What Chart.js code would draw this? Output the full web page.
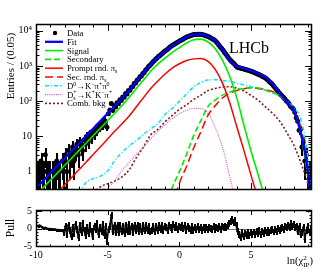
<!DOCTYPE html>
<html><head><meta charset="utf-8">
<script src="https://cdn.jsdelivr.net/npm/chart.js@4.4.1/dist/chart.umd.min.js"></script>
<style>
html,body{margin:0;padding:0;background:#fff;}
body{width:332px;height:275px;position:relative;overflow:hidden;}
#main{position:absolute;left:0;top:0;}
#pull{position:absolute;left:0;top:200px;}
</style>
</head><body>
<canvas id="main" width="332" height="200"></canvas>
<canvas id="pull" width="332" height="75"></canvas>
<script>
// ---------------- DATA ----------------
const binStart = -9.95, binStep = 0.1;
const counts = [
 1,1,1,2,1,1,3,1,1,1, 0,1,1,1,2,1,1,0,2,1,
 3,1,4,2,3,5,2,4,6,3, 7,5,4,8,6,10,7,12,9,13, 11,16,14,19,17,24,20,29,26,18,
 44,56,86,55,74,68,90,85,110,104, 131,128,165,160,201,205,250,260,318,330,
 395,418,490,520,610,650,765,830,960,1040,
 1160,1300,1395,1570,1680,1870,1985,2190,2320,2550,
 2745,2920,3190,3420,3650,3940,4150,4400,4600,4910,
 5170,5480,5760,6120,6410,6740,6950,7150,7420,7620,
 7800,7830,7870,7880,7940,7820,7640,7400,7230,7000,
 6760,6380,6040,5690,5420,4960,4440,3950,3520,3140,
 2770,2400,2130,1880,1650,1470,1340,1230,1120,1000,
 920,890,870,850,830,800,785,765,740,720,
 700,672,645,615,592,568,540,515,492,470,
 440,402,370,338,312,280,248,220,196,175,
 158,142,128,116,103,94,84,72,66,60,
 48,34,27,15,16,5,7,2,3,1, 1,0
];
const pulls = [
 0.8,0.7,0.9,0.6,0.3,0.1,0.2,0.0,-0.1,-0.1, -0.2,-0.2,-0.3,-0.3,-0.4,-0.4,-0.5,-0.5,-0.6,-1.2,
 0.6,-1.8,0.9,-0.7,-2.3,0.4,-1.5,1.2,-0.3,-2.6, 0.8,-1.1,1.5,-0.6,-2.0,0.3,-1.4,1.0,-0.9,-2.4,
 0.7,-0.4,1.3,-1.6,0.2,-0.8,1.1,-1.9,0.5,-3.8,
 -0.3,0.6,3.8,-0.9,0.9,-1.2,0.8,-1.1,1.0,-0.9, 0.7,-1.3,0.9,-1.0,1.1,-0.9,0.6,-1.2,0.9,-0.7,
 0.8,-0.8,0.7,-1.0,0.9,-0.7,1.0,-0.6,0.7,-0.9,
 -0.6,0.5,-0.8,0.7,-0.5,0.8,-0.4,0.9,-0.6,0.6, 0.4,-0.5,0.9,0.2,-0.4,1.1,0.3,1.0,-0.4,0.7,
 0.2,0.9,-0.1,0.8,-0.5,0.6,0.1,-0.5,0.5,-0.5, 0.4,-0.2,0.5,-0.4,0.4,-0.5,0.3,-0.3,0.4,-0.4,
 0.2,-0.1,-0.4,0.5,-0.2,0.4,0.1,0.7,-0.2,0.5,
 0.2,0.6,0.2,1.0,1.3,1.9,2.5,1.6,2.2,1.0,
 -0.8,-1.7,-2.7,-1.2,-2.3,-1.4,-2.1,-1.0,-1.9,-1.2, -1.7,-1.0,-1.6,
 -0.9,-1.5,-0.7,-1.6,-0.8,-1.3,-0.6,-1.2,-0.5,-1.1, -0.6,-0.3,-1.0,-0.3,-0.8,-0.1,-0.7,
 -0.1,0.3,-0.3,0.5,0.2,0.9,0.4,1.3,0.6,1.1, 0.3,0.7,
 -0.9,0.6,-1.7,-1.1,0.4,-3.1,-0.6,0.5,-1.1,-0.3
];
// pull uncertainty per bin (thin where the pull line is flat on the left)
const pullErrs = [
 0.1,0.1,0.1,0.1,0.1,0.1,0.1,0.1,0.1,0.1, 0.1,0.1,0.1,0.1,0.1,0.1,0.1,0.1,0.1
];
const curveX = [-10,-9.5,-9,-8.5,-8,-7.5,-7,-6.5,-6,-5.5,-5,-4.5,-4,-3.5,-3,-2.5,-2,-1.5,-1,-0.5,
 0,0.5,1,1.5,2,2.5,3,3.5,4,4.5,5,5.5,6,6.5,7,7.5,8,8.5,9,9.25];
const fitY = [0.34,0.55,0.90,1.47,2.39,3.89,6.3,10.3,16.8,27.4,44.7,72.8,119,205,363,630,1120,1760,2630,3800,
 5010,6610,7760,7940,6920,5250,2950,1460,980,850,740,600,480,310,170,93,50,11,0.8,0.05];
const signalY = [0.21,0.35,0.57,0.92,1.51,2.45,4.0,6.5,10.6,17.3,28.2,45.9,74.8,129,229,398,708,1120,1660,2400,
 3310,4470,5500,5750,4790,3090,1450,520,126,21,3.8,0.8,0.16,null,null,null,null,null,null,null];
const secondaryY = [null,null,null,null,null,null,null,null,null,null,null,null,null,null,null,null,null,null,0.1,0.35,
 1.0,3.1,10.7,28,71,107,148,178,214,229,240,237,204,174,141,93,50,10,0.5,0.05];
const promptY = [null,null,0.15,0.25,0.42,0.69,1.14,1.86,3.1,5.1,8.5,14.1,22.9,38,69,126,229,372,590,870,
 1150,1430,1585,1620,1350,795,330,93,19,4.0,0.78,0.16,null,null,null,null,null,null,null,null];
const secRndY = [null,null,null,null,null,null,null,null,null,null,null,null,null,null,null,null,null,null,null,0.1,
 0.47,1.4,4.7,13.5,40,74,123,166,200,224,240,229,214,186,151,89,52,16,0.9,0.05];
const d0Y = [null,null,null,null,null,null,0.25,0.5,0.63,0.74,1.05,2.1,3.5,5.4,7.6,11.5,16.2,23,42,62,
 100,158,257,339,398,407,385,363,324,288,257,229,204,170,141,100,63,28,1.6,0.05];
const dsY = [null,null,null,null,null,null,null,null,null,0.2,0.33,0.56,1.07,1.8,3.1,5.0,8.5,13.8,21.4,31.6,
 43.7,55,61.7,61.7,44.7,17.8,5.0,0.76,0.1,null,null,null,null,null,null,null,null,null,null,null];
const combY = [null,null,null,null,null,null,null,null,0.25,0.37,0.45,0.54,0.71,1.12,2.5,5.0,11,15.8,26,39,
 58,79,112,148,200,229,251,257,234,195,145,105,69,45,27,12.6,5.4,1.66,0.38,0.1];

const yTickValues = [1,10,100,1000,10000];
const yTickLabels = ['1','10','10²','10³','10⁴'];
const pullTickValues = [-5,0,5];
const xTickValues = [-10,-5,0,5];

// ---------------- STYLE ----------------
const SERIF = "'Liberation Serif','Times New Roman',serif";
const styles = {
  fit:{color:'#0000ff',width:2.3,dash:[]},
  signal:{color:'#00ee00',width:1.6,dash:[]},
  secondary:{color:'#00ee00',width:1.6,dash:[6,3]},
  prompt:{color:'#ff0000',width:1.5,dash:[]},
  secRnd:{color:'#ff0000',width:1.5,dash:[8,4]},
  d0:{color:'#00e5ff',width:1.5,dash:[4,2,1,2]},
  ds:{color:'#cc55cc',width:1.1,dash:[1,1.2]},
  comb:{color:'#8b1a1a',width:1.6,dash:[2,2]}
};

const binX = i => +(binStart + i*binStep).toFixed(3);
const dataPts = counts.map((n,i)=>({x:binX(i), y:n>0?n:null}));
const pullPts = pulls.map((p,i)=>({x:binX(i), y:p}));
const curve = arr => curveX.map((x,i)=>({x, y:arr[i]}));

function lineDs(arr, st, order){
  return {data:curve(arr), showLine:true, pointRadius:0, borderColor:st.color, borderWidth:st.width,
    borderDash:st.dash, fill:false, cubicInterpolationMode:'monotone', spanGaps:false, order};
}

// ---------------- helpers ----------------
function drawRich(ctx, parts, x, y, size, measureOnly){
  let cx = x;
  for (const p of parts){
    if (p.stack){
      const s = size*0.68;
      ctx.font = s+'px '+SERIF;
      const w = Math.max(ctx.measureText(p.sup).width, ctx.measureText(p.sub).width);
      if(!measureOnly){ ctx.fillText(p.sup, cx, y - size*0.36); ctx.fillText(p.sub, cx, y + size*0.26); }
      cx += w; continue;
    }
    const m = p.m || 'n';
    const s = m==='n' ? size : size*0.68;
    const dy = m==='sup' ? -size*0.36 : (m==='sub' ? size*0.24 : 0);
    ctx.font = s+'px '+SERIF;
    if(!measureOnly) ctx.fillText(p.t, cx, y+dy);
    cx += ctx.measureText(p.t).width;
  }
  return cx - x;
}

function frameTicks(id, xMaj, xMin, yTicks){
  return {id, afterDatasetsDraw(chart){
    const {ctx, chartArea:a, scales:{x,y}} = chart;
    ctx.save(); ctx.strokeStyle='#000'; ctx.lineWidth=1;
    ctx.beginPath();
    for (let k=-10;k<=9;k++){
      const px = Math.round(x.getPixelForValue(k))+0.5;
      const L = (k%5===0)?xMaj:xMin;
      ctx.moveTo(px,a.bottom); ctx.lineTo(px,a.bottom-L);
      ctx.moveTo(px,a.top); ctx.lineTo(px,a.top+L);
    }
    for (const [v,L] of yTicks){
      const py = Math.round(y.getPixelForValue(v))+0.5;
      if (py < a.top || py > a.bottom) continue;
      ctx.moveTo(a.left,py); ctx.lineTo(a.left+L,py);
      ctx.moveTo(a.right,py); ctx.lineTo(a.right-L,py);
    }
    ctx.stroke();
    ctx.lineWidth=1.5;
    ctx.strokeRect(Math.round(a.left)+0.5, Math.round(a.top)+0.5, Math.round(a.right-a.left)-1, Math.round(a.bottom-a.top)-1);
    ctx.restore();
  }};
}

const mainYTicks = [];
for (let d=-1; d<=4; d++) for (let m=1; m<=9; m++){
  const v = m*Math.pow(10,d);
  if (v>=0.34 && v<=15500) mainYTicks.push([v, m===1?7:3.5]);
}
const pullYTicks = [];
for (let v=-5; v<=5; v++) pullYTicks.push([v, v%5===0?6:2.5]);

const dataErrors = {id:'dataErrors', beforeDatasetsDraw(chart){
  const {ctx, chartArea:a, scales:{x,y}} = chart;
  ctx.save(); ctx.beginPath(); ctx.rect(a.left,a.top,a.right-a.left,a.bottom-a.top); ctx.clip();
  ctx.fillStyle='#000';
  counts.forEach((n,i)=>{
    if (n<=0) return;
    const e = Math.sqrt(n);
    const px = Math.floor(x.getPixelForValue(binX(i)));
    const lo = n-e > 0.01 ? y.getPixelForValue(n-e) : a.bottom+2;
    const hi = y.getPixelForValue(n+e);
    ctx.fillRect(px, Math.round(hi), 2, Math.round(lo)-Math.round(hi));
  });
  ctx.restore();
}};

const legendItems = [
  {key:'data', parts:[{t:'Data'}]},
  {key:'fit', parts:[{t:'Fit'}]},
  {key:'signal', parts:[{t:'Signal'}]},
  {key:'secondary', parts:[{t:'Secondary'}]},
  {key:'prompt', parts:[{t:'Prompt rnd. π'},{t:'s',m:'sub'}]},
  {key:'secRnd', parts:[{t:'Sec. rnd. π'},{t:'s',m:'sub'}]},
  {key:'d0', parts:[{t:'D'},{t:'0',m:'sup'},{t:'→K'},{t:'−',m:'sup'},{t:'π'},{t:'+',m:'sup'},{t:'π'},{t:'0',m:'sup'}]},
  {key:'ds', parts:[{t:'D'},{stack:true,sup:'+',sub:'s'},{t:'→K'},{t:'+',m:'sup'},{t:'K'},{t:'−',m:'sup'},{t:'π'},{t:'+',m:'sup'}]},
  {key:'comb', parts:[{t:'Comb. bkg'}]}
];

const mainText = {id:'mainText', afterDraw(chart){
  const ctx = chart.ctx;
  ctx.save(); ctx.fillStyle='#000'; ctx.textBaseline='alphabetic'; ctx.textAlign='left';
  legendItems.forEach((it,i)=>{
    const cy = 33 + i*8.8;
    if (it.key==='data'){
      ctx.beginPath(); ctx.arc(55, cy, 2.2, 0, Math.PI*2); ctx.fill();
    } else {
      const st = styles[it.key];
      ctx.save(); ctx.strokeStyle=st.color; ctx.lineWidth=st.width; ctx.setLineDash(st.dash);
      ctx.beginPath(); ctx.moveTo(45, cy); ctx.lineTo(63, cy); ctx.stroke(); ctx.restore();
    }
    ctx.fillStyle='#000';
    drawRich(ctx, it.parts, 67, cy+3, 8.7);
  });
  ctx.font = '16px '+SERIF; ctx.fillText('LHCb', 229, 53);
  ctx.save(); ctx.translate(11, 66); ctx.rotate(-Math.PI/2);
  ctx.font = '11px '+SERIF; ctx.textAlign='center'; ctx.textBaseline='middle';
  ctx.fillText('Entries / (0.05)', 0, 0); ctx.restore();
  ctx.restore();
}};

const pullDraw = {id:'pullDraw', beforeDatasetsDraw(chart){
  const {ctx, chartArea:a, scales:{x,y}} = chart;
  ctx.save(); ctx.beginPath(); ctx.rect(a.left,a.top,a.right-a.left,a.bottom-a.top); ctx.clip();
  ctx.strokeStyle='#777'; ctx.lineWidth=1;
  const y0 = Math.round(y.getPixelForValue(0))+0.5;
  ctx.beginPath(); ctx.moveTo(a.left,y0); ctx.lineTo(a.right,y0); ctx.stroke();
  ctx.fillStyle='#000';
  pulls.forEach((p,i)=>{
    const e = i < pullErrs.length ? pullErrs[i] : 1;
    const px = Math.floor(x.getPixelForValue(binX(i)));
    const top = Math.round(y.getPixelForValue(p+e)), bot = Math.round(y.getPixelForValue(p-e));
    ctx.fillRect(px, top, 2, Math.max(2, bot-top));
  });
  ctx.strokeStyle='#000'; ctx.lineWidth=1.6; ctx.lineJoin='round';
  ctx.beginPath();
  pulls.forEach((p,i)=>{
    const px = x.getPixelForValue(binX(i)), py = y.getPixelForValue(p);
    if (i===0) ctx.moveTo(px,py); else ctx.lineTo(px,py);
  });
  ctx.stroke();
  ctx.restore();
}, afterDraw(chart){
  const ctx = chart.ctx;
  ctx.save(); ctx.fillStyle='#000';
  ctx.save(); ctx.translate(11, 28); ctx.rotate(-Math.PI/2);
  ctx.font = '11.5px '+SERIF; ctx.textAlign='center'; ctx.textBaseline='middle';
  ctx.fillText('Pull', 0, 0); ctx.restore();
  const parts = [{t:'ln(χ'},{stack:true,sup:'2',sub:'IP'},{t:')'}];
  ctx.textAlign='left'; ctx.textBaseline='alphabetic';
  const w = drawRich(ctx, parts, 0, 0, 10.5, true);
  drawRich(ctx, parts, 313 - w, 64, 10.5);
  ctx.restore();
}};

// ---------------- CHARTS ----------------
Chart.defaults.font.family = SERIF;
Chart.defaults.color = '#000';

new Chart(document.getElementById('main'), {
  type:'scatter',
  data:{datasets:[
    {data:dataPts, pointRadius:2.5, pointBackgroundColor:'#000', pointBorderWidth:0, order:10},
    lineDs(combY, styles.comb, 9),
    lineDs(dsY, styles.ds, 8),
    lineDs(d0Y, styles.d0, 7),
    lineDs(secRndY, styles.secRnd, 6),
    lineDs(secondaryY, styles.secondary, 5),
    lineDs(promptY, styles.prompt, 4),
    lineDs(signalY, styles.signal, 3),
    lineDs(fitY, styles.fit, 1)
  ]},
  options:{
    responsive:false, animation:false, devicePixelRatio:1, events:[],
    layout:{padding:{left:0,right:20,top:24,bottom:7}},
    plugins:{legend:{display:false}, tooltip:{enabled:false}},
    scales:{
      x:{type:'linear', min:-10, max:9.25, display:false},
      y:{type:'logarithmic', min:0.34, max:15500,
        afterFit:s=>{s.width=36;},
        afterBuildTicks:s=>{s.ticks = yTickValues.map(v=>({value:v}));},
        ticks:{callback:(v)=>{const i=yTickValues.indexOf(v); return i>=0?yTickLabels[i]:'';},
          font:{family:SERIF,size:10}, color:'#000', padding:4, autoSkip:false},
        grid:{display:false, drawTicks:false}, border:{display:false}}
    }
  },
  plugins:[dataErrors, frameTicks('mainFrame',7,3.5,mainYTicks), mainText]
});

new Chart(document.getElementById('pull'), {
  type:'scatter',
  data:{datasets:[{data:pullPts, pointRadius:1.2, pointBackgroundColor:'#000', pointBorderWidth:0}]},
  options:{
    responsive:false, animation:false, devicePixelRatio:1, events:[],
    layout:{padding:{left:0,right:20,top:10,bottom:0}},
    plugins:{legend:{display:false}, tooltip:{enabled:false}},
    scales:{
      x:{type:'linear', min:-10, max:9.25,
        afterFit:s=>{s.height=28;},
        afterBuildTicks:s=>{s.ticks = xTickValues.map(v=>({value:v}));},
        ticks:{callback:v=>String(v), font:{family:SERIF,size:10}, color:'#000', padding:2, maxRotation:0, autoSkip:false},
        grid:{display:false, drawTicks:false}, border:{display:false}},
      y:{type:'linear', min:-5.3, max:5.3,
        afterFit:s=>{s.width=36;},
        afterBuildTicks:s=>{s.ticks = pullTickValues.map(v=>({value:v}));},
        ticks:{callback:v=>String(v), font:{family:SERIF,size:10}, color:'#000', padding:4, autoSkip:false},
        grid:{display:false, drawTicks:false}, border:{display:false}}
    }
  },
  plugins:[pullDraw, frameTicks('pullFrame',5,2.5,pullYTicks)]
});
</script>
</body></html>
